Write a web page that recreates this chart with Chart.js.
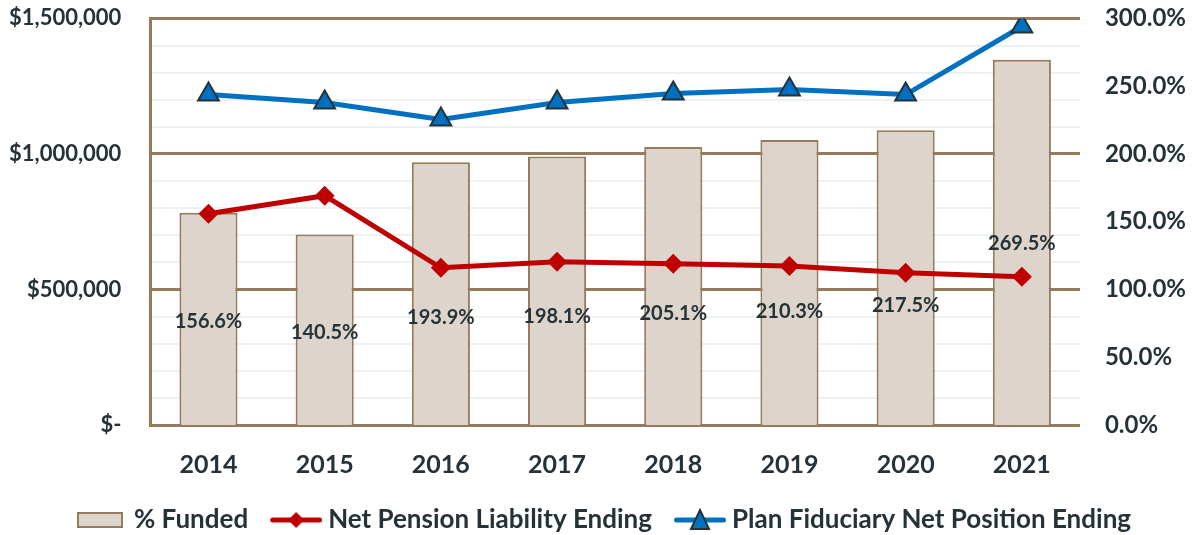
<!DOCTYPE html>
<html lang="en">
<head>
    <meta charset="UTF-8">
    <title>Funded Status</title>
    <script src="https://cdn.jsdelivr.net/npm/chart.js"></script>
    <style>
        body {
            margin: 0;
            background: #ffffff;
        }
        .wrap {
            width: 1196px;
            height: 535px;
        }
    </style>
</head>
<body>
    <div class="wrap">
        <canvas id="fundChart"></canvas>
    </div>

    <script>
        const years = ['2014', '2015', '2016', '2017', '2018', '2019', '2020', '2021'];
        const pctFunded = [156.6, 140.5, 193.9, 198.1, 205.1, 210.3, 217.5, 269.5];
        const netPensionLiability = [779000, 846000, 580000, 602000, 595000, 587000, 562000, 547000];
        const fiduciaryNetPosition = [1219000, 1190000, 1127000, 1190000, 1223000, 1238000, 1219000, 1470000];
        // where each % label sits, in % axis units (placed by hand in the original)
        const pctLabelAt = [76, 68, 79, 80, 82, 83.5, 88, 133.7];

        const brown = '#957a5c';
        const textCol = '#253238';
        const fontFam = 'Lato, "Open Sans", sans-serif';

        // legend icons: canvas is 14px wider than the legend box, icon sits at its right
        function makeIcon(kind) {
            const c = document.createElement('canvas');
            const g = c.getContext('2d');
            c.width = 71; c.height = 26;
            if (kind === 'bar') {
                g.fillStyle = '#ddd5cb';
                g.fillRect(21, 6, 44, 14);
                g.strokeStyle = brown;
                g.lineWidth = 2;
                g.strokeRect(21, 6, 44, 14);
                return c;
            }
            g.lineCap = 'round';
            g.lineWidth = 5;
            g.strokeStyle = kind === 'red' ? '#c00000' : '#0070c0';
            g.beginPath(); g.moveTo(21.5, 13); g.lineTo(68.5, 13); g.stroke();
            if (kind === 'red') {
                g.fillStyle = '#c00000';
                g.beginPath();
                g.moveTo(45, 5); g.lineTo(53, 13); g.lineTo(45, 21); g.lineTo(37, 13);
                g.closePath(); g.fill();
            } else {
                g.fillStyle = '#0070c0';
                g.strokeStyle = textCol;
                g.lineWidth = 2;
                g.beginPath();
                g.moveTo(45, 3); g.lineTo(54, 22); g.lineTo(36, 22);
                g.closePath(); g.fill(); g.stroke();
            }
            return c;
        }
        const icons = [makeIcon('bar'), makeIcon('red'), makeIcon('blue')];

        const barLabels = {
            id: 'barLabels',
            afterDatasetsDraw(chart) {
                const meta = chart.getDatasetMeta(0);
                const yScale = chart.scales.yPct;
                const ctx = chart.ctx;
                ctx.save();
                ctx.font = 'bold 20px ' + fontFam;
                ctx.fillStyle = textCol;
                ctx.textAlign = 'center';
                ctx.textBaseline = 'middle';
                meta.data.forEach((bar, i) => {
                    ctx.fillText(pctFunded[i].toFixed(1) + '%', bar.x, yScale.getPixelForValue(pctLabelAt[i]));
                });
                ctx.restore();
            }
        };

        const ctx = document.getElementById('fundChart').getContext('2d');
        const chart = new Chart(ctx, {
            type: 'bar',
            data: {
                labels: years,
                datasets: [{
                    type: 'bar',
                    label: '% Funded',
                    data: pctFunded,
                    yAxisID: 'yPct',
                    backgroundColor: '#ddd5cb',
                    borderColor: brown,
                    borderWidth: 2,
                    barPercentage: 0.5,
                    categoryPercentage: 1,
                    order: 3
                }, {
                    type: 'line',
                    label: 'Net Pension Liability Ending',
                    data: netPensionLiability,
                    yAxisID: 'yAmt',
                    borderColor: '#c00000',
                    backgroundColor: '#c00000',
                    borderWidth: 5,
                    pointStyle: 'rectRot',
                    pointRadius: 10,
                    pointBorderWidth: 0,
                    tension: 0,
                    order: 2
                }, {
                    type: 'line',
                    label: 'Plan Fiduciary Net Position Ending',
                    data: fiduciaryNetPosition,
                    yAxisID: 'yAmt',
                    borderColor: '#0070c0',
                    backgroundColor: '#0070c0',
                    pointBorderColor: textCol,
                    borderWidth: 5,
                    pointStyle: 'triangle',
                    pointRadius: 12,
                    pointBorderWidth: 2,
                    tension: 0,
                    order: 1
                }]
            },
            options: {
                responsive: true,
                maintainAspectRatio: false,
                animation: false,
                layout: { padding: { top: 0, left: 5, right: 6, bottom: -8 } },
                scales: {
                    x: {
                        grid: { display: false },
                        border: { display: false },
                        ticks: {
                            color: textCol,
                            font: { family: fontFam, size: 25, weight: 'bold' },
                            padding: 17
                        }
                    },
                    yAmt: {
                        position: 'left',
                        min: 0,
                        max: 1500000,
                        border: { display: true, color: brown, width: 3 },
                        grid: {
                            drawTicks: true,
                            tickLength: 25,
                            tickColor: 'rgba(0,0,0,0)',
                            color: c => c.tick.value % 500000 === 0 ? brown : '#edf1f1',
                            lineWidth: c => c.tick.value % 500000 === 0 ? 3 : 2
                        },
                        ticks: {
                            stepSize: 100000,
                            autoSkip: false,
                            padding: 4,
                            color: textCol,
                            font: { family: fontFam, size: 22, weight: 'bold' },
                            callback: v => v % 500000 !== 0 ? '' : (v === 0 ? '$-' : '$' + v.toLocaleString('en-US'))
                        }
                    },
                    yPct: {
                        position: 'right',
                        min: 0,
                        max: 300,
                        border: { display: false },
                        grid: { display: false, drawTicks: true, tickLength: 21 },
                        ticks: {
                            stepSize: 50,
                            padding: 4,
                            color: textCol,
                            font: { family: fontFam, size: 24, weight: 'bold' },
                            callback: v => v.toFixed(1) + '%'
                        }
                    }
                },
                plugins: {
                    tooltip: { enabled: false },
                    legend: {
                        position: 'bottom',
                        labels: {
                            usePointStyle: true,
                            pointStyleWidth: 57,
                            padding: 10,
                            color: textCol,
                            font: { family: fontFam, size: 26, weight: 'bold' },
                            generateLabels(chart) {
                                const items = Chart.defaults.plugins.legend.labels.generateLabels(chart);
                                items.sort((a, b) => a.datasetIndex - b.datasetIndex);
                                items.forEach(it => { it.pointStyle = icons[it.datasetIndex]; });
                                return items;
                            }
                        }
                    }
                }
            },
            plugins: [barLabels]
        });
    </script>
</body>
</html>
